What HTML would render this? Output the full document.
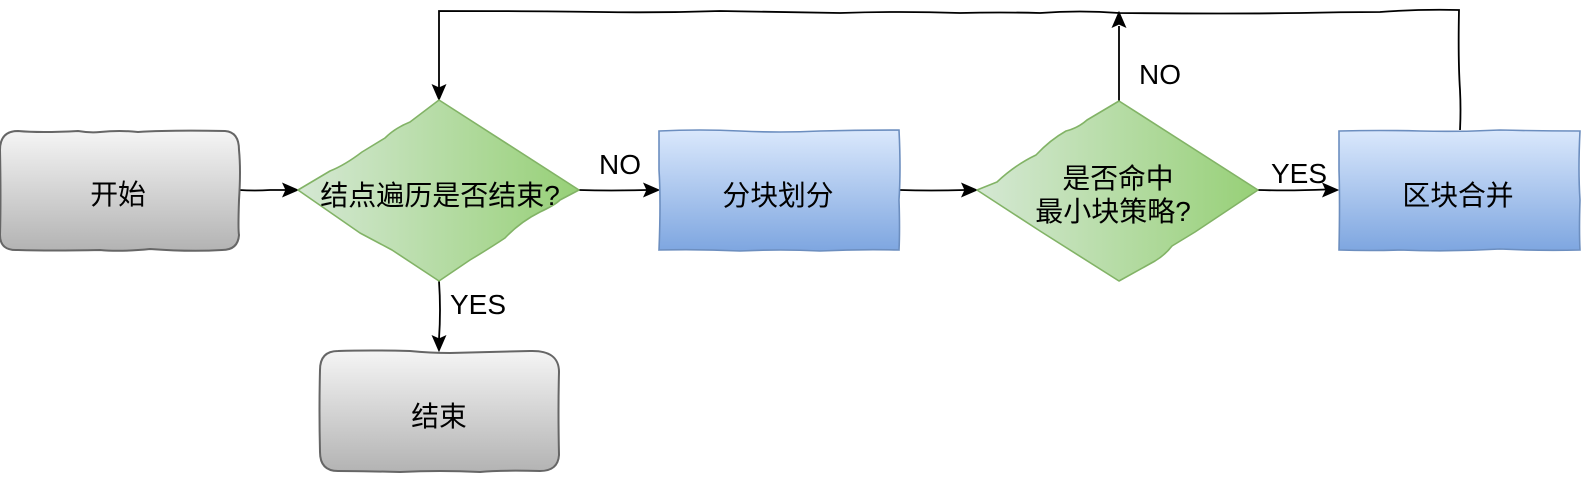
<!DOCTYPE html>
<html>
<head>
<meta charset="utf-8">
<style>
html,body{margin:0;padding:0;background:#fff;width:1590px;height:482px;overflow:hidden}
svg{display:block}
text{font-family:"Liberation Sans","Noto Sans CJK SC",sans-serif;font-size:27.8px;fill:#000;text-anchor:middle}
.l{font-size:28px}
</style>
</head>
<body>
<svg width="1590" height="482" viewBox="0 0 1590 482" xmlns="http://www.w3.org/2000/svg">
<defs>
<linearGradient id="g" x1="0" y1="0" x2="0" y2="1"><stop offset="0" stop-color="#f5f5f5"/><stop offset="1" stop-color="#b3b3b3"/></linearGradient>
<linearGradient id="b" x1="0" y1="0" x2="0" y2="1"><stop offset="0" stop-color="#dae8fc"/><stop offset="1" stop-color="#7ea6e0"/></linearGradient>
<linearGradient id="d" x1="0" y1="0" x2="1" y2="0"><stop offset="0" stop-color="#d5e8d4"/><stop offset="1" stop-color="#97d077"/></linearGradient>
</defs>

<!-- connectors -->
<g fill="none" stroke="#000" stroke-width="1.8">
<path d="M239 190 Q255 191 270 190 L286 190"/>
<path d="M579 190 Q610 191 647 190"/>
<path d="M900 190 Q930 191 965 190"/>
<path d="M1258 190 Q1290 191 1326 189.500"/>
<path d="M439 281 Q441 310 439 339"/>
<path d="M1119 101 L1119 26"/>
<path d="M1460 130 Q1461 110 1460 90 Q1458 60 1459 10 Q1420 9 1380 12 Q1340 12 1300 13 Q1230 14 1119 13 Q1080 10 1040 13 Q1000 12 960 13 Q900 11 840 13 Q780 12 720 11 Q660 13 600 12 Q540 11 439 11 L439 88"/>
</g>
<g fill="#000" stroke="#000" stroke-width="1">
<path d="M298 190 L283 196.500 L286 190 L283 183.500 Z"/>
<path d="M659 190 L644 196.500 L647 190 L644 183.500 Z"/>
<path d="M977 190 L962 196.500 L965 190 L962 183.500 Z"/>
<path d="M1338 190 L1323 196.500 L1326 190 L1323 183.500 Z"/>
<path d="M439 351 L432.500 336 L439 339 L445.500 336 Z"/>
<path d="M439 100 L432.500 85 L439 88 L445.500 85 Z"/>
<path d="M1119 12 L1112.500 27 L1119 24 L1125.500 27 Z"/>
</g>

<!-- start -->
<path d="M18 131 Q40 133 78 131 Q90 133 100 132 Q120 130 138 132 Q170 130 225 131 Q239 132 239 150 Q241 170 239 200 Q238 230 239 235 Q238 250 222 250 Q190 252 150 249 Q120 252 100 250 Q50 251 18 250 Q0 251 0 235 Q1 200 0 150 Q0 131 18 131 Z" fill="url(#g)" stroke="#666" stroke-width="2"/>
<!-- end -->
<path d="M338 351 Q370 350 410 351 Q430 353 450 353 Q490 352 530 351 Q559 350 559 372 Q558 410 559 455 Q558 471 540 471 Q500 470 480 472 Q440 470 400 472 Q360 471 338 471 Q320 471 320 452 Q319 410 320 370 Q320 351 338 351 Z" fill="url(#g)" stroke="#666" stroke-width="2"/>

<!-- diamond 1 -->
<path d="M439 100 L579 190 L560 200 Q555 205 540 212 Q520 222 505 238 Q490 248 470 260 L439 281 L392 250 L360 233 L298 190 L330 171 Q345 165 362 152 L385 138 Q395 128 410 122 Z" fill="url(#d)" stroke="#82b366" stroke-width="1.6" stroke-linejoin="round"/>
<!-- diamond 2 -->
<path d="M1119 101 L1258 190 L1195 232 L1172 246 Q1165 255 1155 261 L1119 281 L1040 231 L977 190 L997 182 Q1015 165 1036 155 Q1050 140 1066 131 Q1078 128 1087 120 Z" fill="url(#d)" stroke="#82b366" stroke-width="1.6" stroke-linejoin="round"/>

<!-- blue boxes -->
<path d="M659 131 Q700 129 740 131 Q780 133 820 131 Q860 130 899 130 Q901 170 899 200 Q900 230 899 250 Q860 249 820 251 Q780 249 740 251 Q700 249 659 250 Q661 200 659 170 Z" fill="url(#b)" stroke="#6c8ebf" stroke-width="1.6"/>
<path d="M1339 131 Q1380 130 1420 131 Q1460 132 1500 130 Q1540 131 1580 131 Q1578 170 1580 200 Q1579 230 1580 250 Q1540 251 1500 249 Q1450 252 1400 250 Q1370 251 1339 250 Q1340 200 1339 170 Z" fill="url(#b)" stroke="#6c8ebf" stroke-width="1.6"/>

<!-- labels -->
<text x="118" y="204">开始</text>
<text x="440" y="205" style="font-size:28px">结点遍历是否结束?</text>
<text x="778" y="205">分块划分</text>
<text x="1118" y="188">是否命中</text>
<text x="1113" y="221" style="font-size:28px">最小块策略?</text>
<text x="1458" y="205">区块合并</text>
<text x="439" y="426">结束</text>
<text class="l" x="620" y="174">NO</text>
<text class="l" x="1160" y="84">NO</text>
<text class="l" x="1299" y="183">YES</text>
<text class="l" x="478" y="314">YES</text>
</svg>
</body>
</html>
